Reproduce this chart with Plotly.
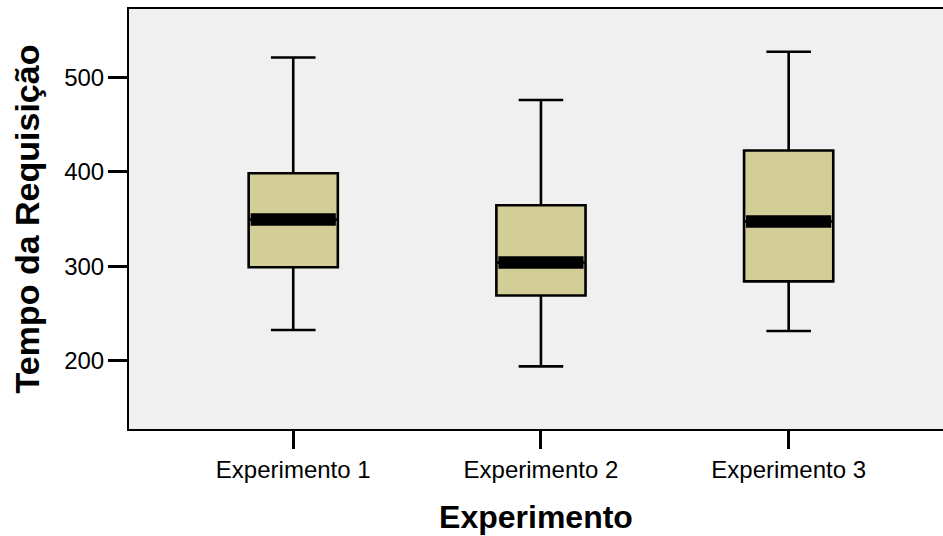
import plotly.graph_objects as go

categories = ["Experimento 1", "Experimento 2", "Experimento 3"]
positions = [1, 2, 3]
lower_whisker = [232.5, 194, 231.5]
q1 = [299, 269, 284]
median = [349.4, 304, 347.4]
q3 = [398.5, 364.5, 422.5]
upper_whisker = [521, 476, 527]
y_ticks = [200, 300, 400, 500]

FONT = "Liberation Sans, Arial, sans-serif"
BOX_W = 0.36

fig = go.Figure()
fig.add_trace(go.Box(
    x=positions, q1=q1, median=median, q3=q3,
    lowerfence=lower_whisker, upperfence=upper_whisker,
    width=BOX_W, whiskerwidth=0.5,
    fillcolor="rgb(211,206,152)",
    line=dict(color="black", width=2.6),
    boxpoints=False, showlegend=False, hoverinfo="skip",
))

mx, my = [], []
for p, m in zip(positions, median):
    mx += [p - BOX_W / 2 + 0.008, p + BOX_W / 2 - 0.008, None]
    my += [m, m, None]
fig.add_trace(go.Scatter(x=mx, y=my, mode="lines",
                         line=dict(color="black", width=12.5),
                         showlegend=False, hoverinfo="skip"))

fig.update_layout(
    width=943, height=536,
    margin=dict(l=129, r=0, t=9, b=107),
    paper_bgcolor="white", plot_bgcolor="#F0F0F0",
    font=dict(family=FONT, color="black"),
    xaxis=dict(
        range=[0.337, 3.623], tickmode="array", tickvals=positions, ticktext=categories,
        ticks="outside", ticklen=18, tickwidth=2.5, tickcolor="black",
        tickfont=dict(size=24, family=FONT),
        showline=True, linecolor="black", linewidth=2, mirror=True,
        showgrid=False, zeroline=False,
        title=dict(text="<b>Experimento</b>", font=dict(size=32, family=FONT), standoff=24),
    ),
    yaxis=dict(
        range=[127.7, 572.3], tickmode="array", tickvals=y_ticks,
        ticks="outside", ticklen=19, tickwidth=2.5, tickcolor="black",
        tickfont=dict(size=24, family=FONT), ticklabelstandoff=-1,
        showline=True, linecolor="black", linewidth=2, mirror=False,
        showgrid=False, zeroline=False,
        title=dict(text="<b>Tempo da Requisição</b>", font=dict(size=34, family=FONT), standoff=14),
    ),
)

fig.write_html(
    "out.html",
    config={"displayModeBar": False},
    post_script="document.body.style.margin='0';document.body.style.overflow='hidden';",
)
